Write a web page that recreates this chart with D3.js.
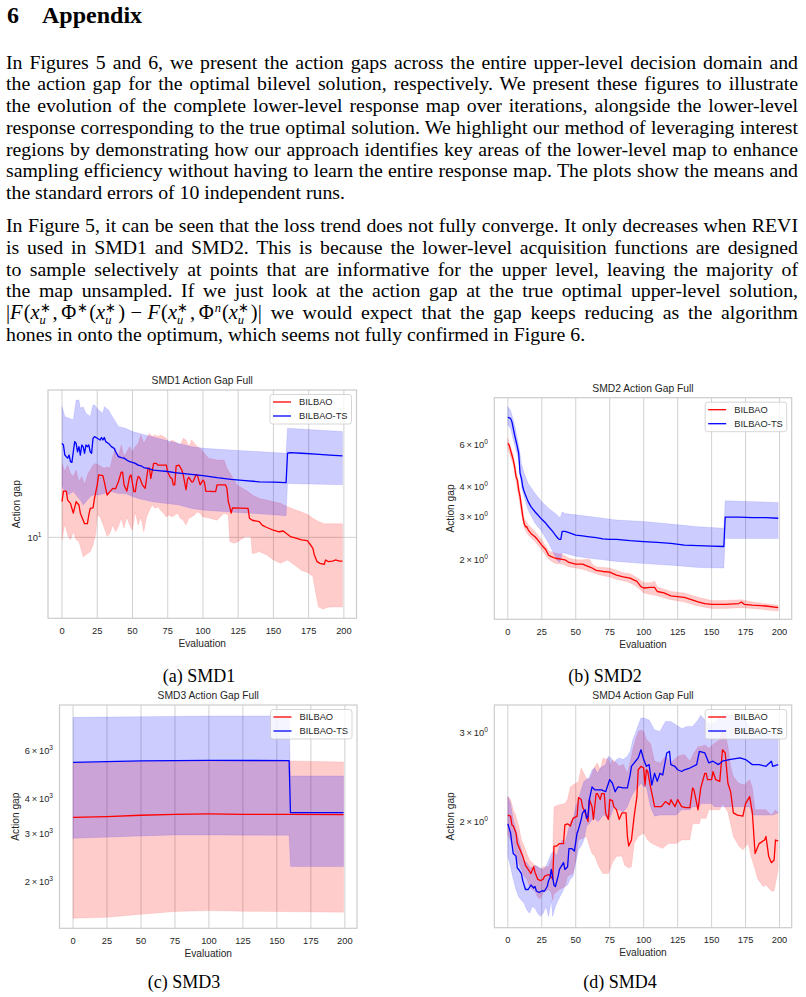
<!DOCTYPE html>
<html>
<head>
<meta charset="utf-8">
<script src="https://cdn.jsdelivr.net/npm/d3@7"></script>
<style>
  body { margin: 0; background: #fff; }
  svg { display: block; }
</style>
</head>
<body>
<svg id="page" width="806" height="997"></svg>
<script>
// ---------- page text ----------
const headingNum = "6";
const headingText = "Appendix";

const para1 = [
  "In Figures 5 and 6, we present the action gaps across the entire upper-level decision domain and",
  "the action gap for the optimal bilevel solution, respectively.  We present these figures to illustrate",
  "the evolution of the complete lower-level response map over iterations, alongside the lower-level",
  "response corresponding to the true optimal solution. We highlight our method of leveraging interest",
  "regions by demonstrating how our approach identifies key areas of the lower-level map to enhance",
  "sampling efficiency without having to learn the entire response map. The plots show the means and",
  "the standard errors of 10 independent runs."
];
const para2 = [
  "In Figure 5, it can be seen that the loss trend does not fully converge. It only decreases when REVI",
  "is used in SMD1 and SMD2.  This is because the lower-level acquisition functions are designed",
  "to sample selectively at points that are informative for the upper level, leaving the majority of",
  "the map unsampled.  If we just look at the action gap at the true optimal upper-level solution,"
];
const mathTail = "we would expect that the gap keeps reducing as the algorithm";
const para2Last = "hones in onto the optimum, which seems not fully confirmed in Figure 6.";

const captions = ["(a) SMD1", "(b) SMD2", "(c) SMD3", "(d) SMD4"];
const titles = ["SMD1 Action Gap Full", "SMD2 Action Gap Full", "SMD3 Action Gap Full", "SMD4 Action Gap Full"];
const seriesNames = ["BILBAO", "BILBAO-TS"];
const xTicks = [0, 25, 50, 75, 100, 125, 150, 175, 200];

// ---------- SMD1 ----------
const smd1RedMean = [[0,15.4],[1,17.5],[3,17.5],[4,15.7],[6,15.1],[8,13.4],[10,15.4],[12,14.8],[13,13.4],[16,11.8],[18,11.8],[19,13.1],[20,14.2],[22,14.3],[23,16.0],[25,18.9],[26,21.3],[29,21.1],[30,19.6],[32,16.7],[34,17.4],[36,18.1],[38,18.0],[40,19.6],[42,22.0],[43,22.0],[44,18.9],[46,17.5],[48,20.9],[49,21.3],[51,17.4],[52,17.4],[53,19.6],[54,20.9],[55,20.7],[57,18.9],[59,18.1],[60,20.4],[61,23.1],[62,23.1],[63,20.4],[65,24.5],[67,24.5],[68,24.0],[74,24.0],[75,22.0],[77,20.6],[78,20.4],[79,18.9],[80,18.9],[81,23.8],[83,24.0],[85,22.6],[86,21.3],[88,17.8],[89,20.2],[90,20.7],[92,19.6],[93,19.6],[95,21.3],[96,21.3],[97,20.0],[98,18.9],[100,20.0],[101,19.6],[102,17.5],[109,17.4],[110,18.9],[116,18.9],[117,18.1],[118,15.4],[119,14.5],[120,13.4],[121,14.3],[132,14.2],[133,12.6],[135,12.3],[140,12.1],[142,11.6],[145,11.3],[150,10.9],[154,10.7],[157,10.8],[159,10.5],[162,10.1],[166,9.9],[170,9.7],[174,9.6],[176,9.2],[178,8.75],[179,8.1],[181,7.45],[183,7.3],[186,7.2],[187,7.6],[189,7.45],[192,7.5],[194,7.6],[197,7.5],[199,7.5]];
const smd1RedUpper = [[0,24.5],[2,22.2],[4,24.0],[6,21.7],[8,20.9],[10,22.6],[12,19.6],[14,20.9],[16,18.9],[18,21.3],[20,22.6],[22,24.0],[24,24.5],[26,24.0],[28,23.5],[30,23.1],[32,23.5],[34,23.1],[36,26.6],[38,29.4],[40,26.6],[42,30.6],[44,26.6],[46,28.2],[48,30.0],[50,28.2],[52,30.0],[54,31.2],[56,34.6],[58,31.2],[60,33.2],[62,35.3],[64,33.9],[66,34.6],[68,33.9],[70,34.6],[72,33.9],[74,33.2],[76,31.2],[78,32.5],[80,31.9],[82,31.2],[84,30.6],[86,33.2],[88,32.5],[90,30.0],[92,32.5],[94,31.2],[96,30.0],[98,29.4],[100,28.2],[104,26.1],[110,25.5],[115,25.5],[117,23.1],[120,21.3],[124,18.9],[128,18.1],[132,17.4],[135,16.7],[140,16.0],[145,15.7],[150,15.4],[155,15.1],[160,14.5],[165,14.0],[170,13.6],[175,13.1],[178,12.6],[182,12.1],[186,11.8],[199,11.8]];
const smd1RedLower = [[0,9.7],[2,11.8],[4,10.3],[6,9.7],[8,10.7],[10,9.7],[12,9.5],[15,7.9],[17,8.1],[20,8.4],[22,9.1],[24,10.5],[25,13.1],[27,12.8],[30,11.2],[32,10.1],[34,10.5],[36,11.6],[38,10.7],[40,11.4],[42,12.6],[44,11.2],[46,12.8],[48,11.6],[50,10.9],[52,13.6],[54,11.6],[56,12.8],[58,10.7],[60,12.8],[62,13.9],[64,14.8],[66,14.2],[68,14.5],[70,13.9],[72,13.4],[74,12.8],[76,13.1],[78,12.8],[80,13.1],[82,13.4],[84,12.6],[86,12.3],[88,11.6],[90,12.6],[92,12.8],[94,13.1],[96,13.6],[98,13.4],[100,12.8],[105,12.6],[110,12.3],[115,13.4],[118,13.1],[119,9.5],[122,9.3],[125,9.5],[130,10.1],[134,10.1],[135,8.2],[140,8.4],[145,8.1],[150,7.6],[155,7.3],[160,7.6],[165,7.15],[170,6.7],[175,6.5],[178,6.2],[180,5.1],[182,4.3],[185,4.2],[190,4.3],[199,4.3]];
const smd1BlueMean = [[0,31.2],[1,30.6],[2,27.1],[3,26.6],[4,26.1],[5,27.1],[6,25.0],[7,24.8],[8,28.2],[9,31.9],[10,31.2],[11,28.2],[12,30.0],[13,27.1],[14,30.6],[15,30.0],[16,27.7],[17,30.6],[18,30.0],[19,30.6],[20,28.2],[21,27.7],[22,33.2],[23,33.9],[25,33.2],[27,32.5],[28,33.5],[29,32.5],[30,33.5],[31,31.9],[33,31.2],[35,30.0],[37,29.4],[38,28.2],[40,26.6],[42,26.3],[44,26.1],[46,25.5],[48,25.0],[50,24.8],[52,24.5],[54,24.0],[56,23.8],[58,23.3],[60,23.1],[62,22.9],[65,22.6],[70,22.4],[75,22.2],[80,21.9],[85,21.7],[90,21.5],[95,21.3],[100,21.1],[110,20.6],[120,20.2],[130,19.9],[140,19.6],[150,19.5],[159,19.4],[160,27.7],[162,27.9],[170,27.7],[180,27.4],[190,27.1],[199,26.8]];
const smd1BlueUpper = [[0,48.7],[2,43.2],[8,41.5],[10,52.8],[12,52.8],[13,47.8],[15,48.7],[17,45.0],[20,43.2],[22,49.7],[23,49.7],[26,46.8],[29,45.0],[30,48.7],[33,46.8],[35,44.0],[38,40.6],[40,38.3],[45,37.5],[50,36.0],[59,34.6],[73,32.5],[83,31.2],[92,30.0],[101,29.4],[120,28.8],[159,27.7],[160,37.5],[199,36.0]];
const smd1BlueLower = [[0,18.5],[4,16.7],[8,17.4],[10,16.7],[13,15.7],[15,14.8],[17,15.4],[20,16.4],[22,16.7],[26,16.7],[30,17.0],[35,17.4],[40,17.0],[45,17.0],[50,16.4],[54,16.0],[59,15.7],[64,15.4],[73,15.1],[83,14.8],[92,14.2],[101,13.9],[125,13.5],[140,13.3],[159,13.0],[160,19.2],[199,18.9]];

// ---------- SMD2 ----------
const smd2RedMean = [[0,6.06],[1,5.96],[2,5.68],[3,5.42],[4,5.17],[5,4.85],[6,4.41],[7,4.27],[8,3.88],[9,3.64],[10,3.31],[11,3.01],[12,2.82],[13,2.73],[14,2.73],[15,2.65],[17,2.56],[20,2.48],[22,2.41],[25,2.29],[28,2.19],[30,2.08],[32,2.05],[35,2.02],[40,2.00],[42,1.99],[45,1.94],[50,1.91],[55,1.91],[60,1.86],[62,1.84],[65,1.80],[70,1.78],[75,1.77],[80,1.72],[85,1.69],[90,1.67],[95,1.62],[98,1.54],[100,1.52],[105,1.53],[108,1.53],[110,1.47],[115,1.45],[120,1.41],[125,1.40],[130,1.39],[135,1.36],[140,1.33],[145,1.31],[150,1.30],[160,1.30],[170,1.31],[172,1.33],[174,1.30],[180,1.29],[190,1.28],[199,1.26]];
const smd2RedUpper = [[0,6.35],[4,5.42],[8,4.13],[10,3.53],[12,2.96],[15,2.78],[20,2.61],[25,2.41],[30,2.17],[35,2.12],[40,2.10],[45,2.02],[50,1.99],[55,1.99],[60,2.00],[62,1.91],[65,1.86],[70,1.85],[75,1.84],[80,1.80],[85,1.76],[90,1.74],[95,1.68],[100,1.60],[105,1.60],[108,1.62],[110,1.54],[120,1.47],[130,1.45],[140,1.39],[150,1.35],[160,1.35],[172,1.36],[180,1.33],[199,1.29]];
const smd2RedLower = [[0,5.77],[4,4.93],[8,3.64],[10,3.10],[12,2.69],[15,2.52],[20,2.37],[25,2.19],[30,2.00],[35,1.92],[40,1.91],[45,1.86],[50,1.84],[55,1.82],[60,1.78],[65,1.74],[70,1.71],[75,1.69],[80,1.65],[85,1.63],[90,1.60],[95,1.54],[100,1.45],[110,1.41],[120,1.36],[130,1.33],[140,1.28],[150,1.25],[160,1.25],[172,1.26],[180,1.25],[199,1.22]];
const smd2BlueMean = [[0,7.77],[2,7.69],[3,7.45],[5,6.56],[7,5.87],[8,5.51],[9,4.55],[10,4.34],[11,4.00],[12,3.82],[14,3.58],[15,3.47],[17,3.31],[20,3.15],[22,3.06],[25,2.93],[28,2.82],[30,2.73],[33,2.61],[35,2.52],[37,2.44],[38,2.42],[39,2.42],[40,2.61],[42,2.61],[45,2.58],[50,2.52],[55,2.50],[60,2.48],[65,2.46],[70,2.43],[75,2.42],[80,2.42],[90,2.39],[100,2.37],[110,2.35],[120,2.33],[130,2.29],[140,2.28],[150,2.27],[159,2.26],[160,2.99],[170,2.99],[180,2.98],[190,2.98],[199,2.96]];
const smd2BlueUpper = [[0,8.60],[2,8.33],[5,7.22],[8,5.96],[10,5.00],[12,4.55],[15,4.13],[20,3.76],[25,3.47],[30,3.26],[35,3.10],[38,2.99],[39,3.01],[40,3.15],[42,3.10],[45,3.08],[50,3.06],[60,3.01],[70,2.96],[80,2.91],[100,2.87],[120,2.80],[140,2.73],[159,2.69],[160,3.50],[199,3.44]];
const smd2BlueLower = [[0,7.22],[2,6.99],[5,5.96],[8,5.17],[10,4.00],[12,3.64],[15,3.20],[20,2.82],[25,2.61],[30,2.33],[35,2.05],[37,1.96],[38,1.94],[39,1.99],[40,2.13],[45,2.10],[50,2.06],[60,2.02],[70,1.99],[80,1.96],[100,1.92],[120,1.89],[140,1.85],[159,1.84],[160,2.44],[199,2.44]];

// ---------- SMD3 ----------
const smd3RedMean = [[0,3432],[25,3452],[50,3491],[75,3520],[100,3530],[125,3520],[150,3520],[160,3520],[199,3510]];
const smd3RedUpper = [[0,5412],[50,5489],[75,5504],[100,5520],[160,5520],[199,5473]];
const smd3RedLower = [[0,1464],[25,1476],[50,1514],[75,1549],[100,1562],[125,1553],[150,1549],[199,1540]];
const smd3BlueMean = [[0,5458],[50,5520],[100,5550],[159,5535],[160,3568],[199,3568]];
const smd3BlueUpper = [[0,7976],[50,8021],[100,8066],[159,8066],[160,4863],[199,4863]];
const smd3BlueLower = [[0,2874],[50,2932],[75,2957],[100,2957],[159,2948],[160,2264],[199,2264]];

// ---------- SMD4 ----------
const smd4RedMean = [[0,2.06],[2,2.05],[3,1.97],[4,1.96],[6,1.90],[7,1.81],[9,1.76],[11,1.71],[13,1.64],[15,1.61],[17,1.58],[19,1.63],[20,1.59],[22,1.54],[24,1.53],[26,1.54],[27,1.56],[29,1.57],[31,1.57],[33,1.54],[34,1.79],[36,1.79],[38,1.81],[41,1.81],[42,1.97],[44,1.98],[46,1.96],[48,2.03],[51,2.05],[52,2.23],[54,2.21],[55,2.14],[57,2.08],[59,2.00],[60,2.21],[62,2.14],[63,2.02],[65,2.27],[66,2.27],[68,2.21],[69,2.27],[71,2.27],[72,2.08],[74,2.02],[75,2.21],[77,2.20],[78,2.14],[80,2.11],[82,2.02],[84,2.08],[87,2.08],[88,1.87],[89,1.79],[91,1.84],[93,2.05],[95,2.24],[96,2.53],[98,2.57],[100,2.55],[101,2.36],[102,2.53],[103,2.51],[105,2.34],[107,2.21],[108,2.14],[113,2.14],[116,2.19],[119,2.16],[120,2.21],[123,2.14],[125,2.21],[128,2.14],[131,2.13],[134,2.13],[136,2.33],[137,2.31],[140,2.11],[142,2.33],[145,2.49],[146,2.49],[147,2.42],[150,2.42],[151,2.51],[153,2.42],[156,2.40],[158,2.77],[160,2.73],[162,2.38],[164,2.29],[166,2.08],[169,2.06],[173,2.05],[175,2.17],[178,2.24],[180,2.08],[182,1.73],[185,1.81],[189,1.84],[190,1.87],[192,1.71],[194,1.66],[196,1.68],[197,1.84],[199,1.83]];
const smd4RedUpper = [[0,2.24],[2,2.21],[4,2.11],[6,2.05],[8,1.96],[10,1.84],[12,1.79],[14,1.73],[16,1.68],[18,1.66],[20,1.64],[22,1.63],[24,1.61],[26,1.63],[30,1.63],[32,1.68],[33,1.71],[34,2.14],[38,2.16],[42,2.17],[44,2.21],[46,2.34],[48,2.36],[50,2.38],[52,2.40],[54,2.55],[56,2.49],[58,2.43],[60,2.42],[62,2.49],[64,2.57],[66,2.61],[68,2.53],[70,2.67],[72,2.65],[74,2.67],[75,2.57],[77,2.65],[80,2.61],[82,2.57],[85,2.59],[88,2.49],[90,2.61],[92,2.77],[94,2.90],[96,3.01],[98,3.03],[100,3.01],[102,2.90],[105,2.85],[108,2.63],[112,2.61],[116,2.69],[120,2.61],[125,2.69],[130,2.71],[134,2.63],[137,2.73],[140,2.81],[142,2.81],[145,2.83],[148,2.79],[152,2.85],[156,2.90],[158,3.03],[160,2.99],[162,2.81],[164,2.57],[166,2.45],[170,2.38],[174,2.36],[178,2.42],[180,2.33],[182,2.11],[186,2.11],[190,2.11],[194,2.06],[197,2.11],[199,2.08]];
const smd4RedLower = [[0,1.88],[2,1.84],[4,1.79],[6,1.71],[8,1.66],[10,1.61],[12,1.56],[14,1.54],[16,1.49],[18,1.47],[20,1.46],[22,1.42],[24,1.41],[26,1.45],[28,1.46],[30,1.47],[32,1.45],[33,1.40],[34,1.44],[38,1.47],[42,1.49],[44,1.56],[48,1.58],[50,1.68],[52,1.84],[54,1.85],[58,1.87],[60,1.79],[62,1.73],[64,1.71],[67,1.63],[70,1.58],[74,1.58],[77,1.66],[80,1.71],[84,1.71],[86,1.64],[89,1.62],[91,1.63],[93,1.81],[96,1.87],[100,1.90],[103,1.84],[106,1.81],[110,1.79],[114,1.77],[118,1.81],[124,1.81],[128,1.84],[134,1.84],[136,1.98],[141,1.98],[142,2.03],[146,2.03],[148,2.11],[156,2.11],[158,2.17],[162,2.09],[166,1.87],[170,1.79],[173,1.76],[177,1.81],[179,1.71],[182,1.61],[184,1.54],[188,1.49],[190,1.50],[194,1.46],[196,1.46],[199,1.61]];
const smd4BlueMean = [[0,1.98],[2,1.90],[3,1.81],[4,1.73],[6,1.71],[7,1.62],[8,1.61],[10,1.58],[11,1.53],[13,1.47],[15,1.47],[17,1.50],[19,1.48],[20,1.49],[21,1.46],[23,1.45],[25,1.46],[27,1.46],[29,1.49],[30,1.53],[31,1.55],[32,1.61],[34,1.50],[35,1.49],[37,1.56],[38,1.61],[41,1.66],[42,1.61],[44,1.63],[45,1.77],[47,1.77],[49,1.75],[51,1.90],[52,1.93],[54,2.02],[55,2.08],[57,2.11],[58,2.03],[59,2.05],[60,2.21],[62,2.34],[64,2.31],[69,2.31],[72,2.29],[75,2.42],[77,2.38],[79,2.29],[81,2.34],[85,2.33],[88,2.33],[90,2.47],[91,2.57],[94,2.63],[96,2.67],[98,2.77],[100,2.65],[102,2.57],[104,2.59],[106,2.36],[108,2.49],[110,2.40],[112,2.49],[114,2.47],[117,2.73],[119,2.75],[120,2.59],[123,2.57],[125,2.53],[128,2.51],[130,2.53],[134,2.55],[139,2.59],[141,2.75],[145,2.73],[148,2.61],[151,2.63],[155,2.59],[158,2.63],[163,2.65],[171,2.67],[175,2.65],[180,2.59],[185,2.59],[190,2.57],[194,2.63],[195,2.57],[199,2.59]];
const smd4BlueUpper = [[0,2.24],[2,2.17],[4,2.02],[6,1.93],[8,1.84],[10,1.76],[12,1.68],[14,1.66],[16,1.63],[18,1.62],[20,1.64],[22,1.63],[24,1.62],[26,1.61],[28,1.63],[30,1.68],[32,1.73],[34,1.75],[36,1.71],[38,1.79],[40,1.84],[42,1.81],[44,1.90],[46,2.00],[48,2.02],[50,2.14],[52,2.21],[54,2.31],[56,2.40],[58,2.42],[60,2.45],[62,2.53],[64,2.55],[66,2.49],[68,2.55],[70,2.57],[72,2.59],[74,2.69],[76,2.67],[78,2.61],[80,2.65],[82,2.67],[85,2.65],[88,2.69],[90,2.75],[92,2.90],[94,2.99],[96,3.10],[98,3.20],[100,3.20],[104,3.17],[108,3.03],[112,3.01],[116,3.15],[120,3.15],[124,3.10],[128,3.05],[132,3.08],[136,3.08],[140,3.17],[142,3.24],[145,3.17],[148,3.12],[152,3.12],[156,3.22],[160,3.24],[166,3.24],[170,3.17],[175,3.17],[180,3.03],[185,3.01],[190,2.99],[199,2.99]];
const smd4BlueLower = [[0,1.71],[2,1.63],[4,1.54],[6,1.47],[8,1.42],[10,1.40],[12,1.38],[14,1.34],[16,1.32],[18,1.36],[20,1.35],[22,1.32],[24,1.30],[26,1.32],[28,1.36],[30,1.30],[32,1.40],[33,1.30],[35,1.36],[37,1.40],[40,1.45],[42,1.49],[44,1.50],[46,1.54],[48,1.56],[50,1.66],[52,1.76],[54,1.79],[56,1.84],[58,1.96],[60,1.98],[62,2.02],[64,2.03],[66,2.00],[68,2.02],[70,2.06],[72,2.05],[74,2.02],[76,2.06],[78,2.14],[80,2.11],[82,2.11],[85,2.09],[88,2.14],[90,2.21],[92,2.27],[94,2.31],[96,2.34],[98,2.38],[100,2.34],[102,2.34],[105,2.14],[108,2.05],[112,2.06],[124,2.06],[128,2.11],[134,2.11],[136,2.14],[141,2.14],[142,2.17],[150,2.17],[152,2.14],[178,2.14],[180,2.06],[195,2.06],[199,2.08]];

// y tick values (labels are written as m x 10^e)
const smd1YTicks = [10];
const smd2YTicks = [2, 3, 4, 6];
const smd3YTicks = [2000, 3000, 4000, 6000];
const smd4YTicks = [2, 3];

const RED = "#ff0000", BLUE = "#0000ff";
const SERIF = "'Liberation Serif', 'Times New Roman', serif";
const SANS = "'Liberation Sans', Arial, sans-serif";

const svg = d3.select("#page");

// scratch text for measuring widths
const scratch = svg.append("text").attr("x", -1000).attr("y", -1000);
function measure(str, size, italic, family) {
  scratch.style("font-family", family || SERIF).style("font-size", size + "px")
    .style("font-style", italic ? "italic" : "normal").text(str);
  return scratch.node().getComputedTextLength();
}

// ---------- text block ----------
const LEFT = 6, RIGHT = 798, FS = 19.8;
const textG = svg.append("g").style("font-family", SERIF).style("font-size", FS + "px").attr("fill", "#000");

textG.append("text").attr("x", 7).attr("y", 23).style("font-size", "24px").style("font-weight", "bold").text(headingNum);
textG.append("text").attr("x", 42).attr("y", 23).style("font-size", "24px").style("font-weight", "bold").text(headingText);

function textLine(str, y, justify) {
  const s = str.replace(/  +/g, " ");
  const t = textG.append("text").attr("x", LEFT).attr("y", y).text(s);
  if (justify) {
    const n = (s.match(/ /g) || []).length;
    const w = t.node().getComputedTextLength();
    t.style("word-spacing", ((RIGHT - LEFT - w) / n) + "px");
  }
  return t;
}

const LH = 21.75;
para1.forEach((s, i) => textLine(s, 68.5 + i * LH, i < para1.length - 1));
const p2y = 232;
para2.forEach((s, i) => textLine(s, p2y + i * LH, true));

// math line: |F(x*_u, Φ*(x*_u) − F(x*_u, Φ^n(x*_u)|
const mathY = p2y + 4 * LH;
const MF = 20.5, SC = 12.5;
const xu = [{s: "x", it: 1}, {s: "∗", sc: 1, dy: -7.5}, {s: "u", sc: 1, it: 1, dy: 5, stack: 1, gap: 2}];
const mathTokens = [].concat(
  [{s: "|"}, {s: "F", it: 1, gap: 1}, {s: "("}], xu, [{s: ",", gap: 3.5}, {s: "Φ", gap: 1}, {s: "∗", sc: 1, dy: -7.5, gap: 1}, {s: "("}], xu,
  [{s: ")", gap: 5.5}, {s: "−", gap: 5.5}, {s: "F", it: 1, gap: 1}, {s: "("}], xu,
  [{s: ",", gap: 3.5}, {s: "Φ", gap: 1}, {s: "n", sc: 1, it: 1, dy: -7.5, gap: 1}, {s: "("}], xu, [{s: ")"}, {s: "|"}]
);
const mathText = textG.append("text");
let mx = LEFT, lastStart = LEFT;
mathTokens.forEach(tk => {
  const size = tk.sc ? SC : MF;
  const w = measure(tk.s, size, tk.it);
  const px = tk.stack ? lastStart : mx;
  mathText.append("tspan").attr("x", px).attr("y", mathY + (tk.dy || 0))
    .style("font-size", size + "px").style("font-style", tk.it ? "italic" : "normal").text(tk.s);
  if (tk.stack) mx = Math.max(mx, px + w);
  else { lastStart = mx; mx = mx + w; }
  mx += tk.gap || 0;
});
{
  const nat = measure(mathTail, FS, false);
  const sp = measure("a a", FS, false) - measure("aa", FS, false);
  const n = (mathTail.match(/ /g) || []).length + 1;
  const extra = (RIGHT - mx - nat - sp) / n;
  textG.append("text").attr("x", mx + sp + extra).attr("y", mathY).style("word-spacing", extra + "px").text(mathTail);
}
textLine(para2Last, p2y + 5 * LH, false);

// ---------- charts ----------
function supLabel(sel, mant, exp) {
  sel.append("tspan").text(mant === null ? "10" : mant + "\u2009\u00d7\u200910");
  sel.append("tspan").attr("dy", -4).style("font-size", "6.6px").text(exp);
}

const charts = [
  {title: titles[0], caption: captions[0], cx: 199, cy: 682, L: 48, R: 356.5, T: 390, B: 618.3, yDomain: [3.75, 59.6], ylabDx: 28.5,
   yTicks: smd1YTicks, exp: 1, mant: () => null, hGrid: true,
   red: [smd1RedMean, smd1RedUpper, smd1RedLower], blue: [smd1BlueMean, smd1BlueUpper, smd1BlueLower]},
  {title: titles[1], caption: captions[1], cx: 605, cy: 682, L: 494.3, R: 791.7, T: 397.7, B: 619.3, yDomain: [1.127, 9.37], ylabDx: 40.8,
   yTicks: smd2YTicks, exp: 0, mant: v => v, hGrid: false,
   red: [smd2RedMean, smd2RedUpper, smd2RedLower], blue: [smd2BlueMean, smd2BlueUpper, smd2BlueLower]},
  {title: titles[2], caption: captions[2], cx: 184, cy: 988, L: 59.5, R: 357, T: 705, B: 928.3, yDomain: [1345, 8852], ylabDx: 40.3,
   yTicks: smd3YTicks, exp: 3, mant: v => v / 1000, hGrid: false,
   red: [smd3RedMean, smd3RedUpper, smd3RedLower], blue: [smd3BlueMean, smd3BlueUpper, smd3BlueLower]},
  {title: titles[3], caption: captions[3], cx: 620, cy: 988, L: 494.3, R: 791.7, T: 705, B: 927.7, yDomain: [1.236, 3.394], ylabDx: 40.8,
   yTicks: smd4YTicks, exp: 0, mant: v => v, hGrid: false,
   red: [smd4RedMean, smd4RedUpper, smd4RedLower], blue: [smd4BlueMean, smd4BlueUpper, smd4BlueLower]}
];

charts.forEach(c => {
  const g = svg.append("g").style("font-family", SANS);
  const x = d3.scaleLinear().domain([-9.95, 208.95]).range([c.L, c.R]);
  const y = d3.scaleLog().domain(c.yDomain).range([c.B, c.T]);

  // grid (below data)
  g.selectAll(".vgrid").data(xTicks).join("line")
    .attr("x1", d => x(d)).attr("x2", d => x(d)).attr("y1", c.T).attr("y2", c.B)
    .attr("stroke", "#cccccc").attr("stroke-width", 0.9);
  if (c.hGrid) {
    g.selectAll(".hgrid").data(c.yTicks).join("line")
      .attr("x1", c.L).attr("x2", c.R).attr("y1", d => y(d)).attr("y2", d => y(d))
      .attr("stroke", "#cccccc").attr("stroke-width", 0.9);
  }

  const line = d3.line().x(d => x(d[0])).y(d => y(d[1]));
  const band = (up, lo) => line(up.concat(lo.slice().reverse())) + "Z";

  // standard-error bands
  [[c.red, RED], [c.blue, BLUE]].forEach(([s, col]) => {
    g.append("path").attr("d", band(s[1], s[2]))
      .attr("fill", col).attr("fill-opacity", 0.2)
      .attr("stroke", col).attr("stroke-opacity", 0.12).attr("stroke-width", 0.8);
  });
  // mean lines
  [[c.red, RED], [c.blue, BLUE]].forEach(([s, col]) => {
    g.append("path").attr("d", line(s[0])).attr("fill", "none")
      .attr("stroke", col).attr("stroke-width", 1.3).attr("stroke-linejoin", "round");
  });

  // frame
  g.append("rect").attr("x", c.L).attr("y", c.T).attr("width", c.R - c.L).attr("height", c.B - c.T)
    .attr("fill", "none").attr("stroke", "#cccccc").attr("stroke-width", 1.2);

  // x tick labels
  g.selectAll(".xt").data(xTicks).join("text")
    .attr("x", d => x(d)).attr("y", c.B + 15.5).attr("text-anchor", "middle")
    .style("font-size", "9.3px").attr("fill", "#262626").text(d => d);
  // y tick labels
  g.selectAll(".yt").data(c.yTicks).join("text")
    .attr("x", c.L - 6.5).attr("y", d => y(d) + 3.3).attr("text-anchor", "end")
    .style("font-size", "9.3px").attr("fill", "#262626")
    .each(function (d) { supLabel(d3.select(this), c.mant(d), c.exp); });

  // axis labels and title
  g.append("text").attr("x", (c.L + c.R) / 2).attr("y", c.B + 28.5).attr("text-anchor", "middle")
    .style("font-size", "10.2px").attr("fill", "#262626").text("Evaluation");
  g.append("text").attr("transform", `translate(${c.L - c.ylabDx},${(c.T + c.B) / 2}) rotate(-90)`)
    .attr("text-anchor", "middle").style("font-size", "10.2px").attr("fill", "#262626").text("Action gap");
  g.append("text").attr("x", (c.L + c.R) / 2).attr("y", c.T - 6).attr("text-anchor", "middle")
    .style("font-size", "10.3px").attr("fill", "#262626").text(c.title);

  // legend
  const lg = g.append("g").attr("transform", `translate(${c.R - 5 - 81.5},${c.T + 4.5})`);
  lg.append("rect").attr("width", 81.5).attr("height", 29.5).attr("rx", 2.5)
    .attr("fill", "#fff").attr("fill-opacity", 0.8).attr("stroke", "#cccccc").attr("stroke-width", 0.8);
  seriesNames.forEach((name, i) => {
    const yy = 7.5 + i * 14;
    lg.append("line").attr("x1", 3).attr("x2", 21).attr("y1", yy).attr("y2", yy)
      .attr("stroke", i ? BLUE : RED).attr("stroke-width", 1.3);
    lg.append("text").attr("x", 29).attr("y", yy + 3.3).style("font-size", "9.3px")
      .attr("fill", "#262626").text(name);
  });

  // sub-figure caption
  svg.append("text").attr("x", c.cx).attr("y", c.cy).attr("text-anchor", "middle")
    .style("font-family", SERIF).style("font-size", "18px").text(c.caption);
});

scratch.remove();
</script>
</body>
</html>
